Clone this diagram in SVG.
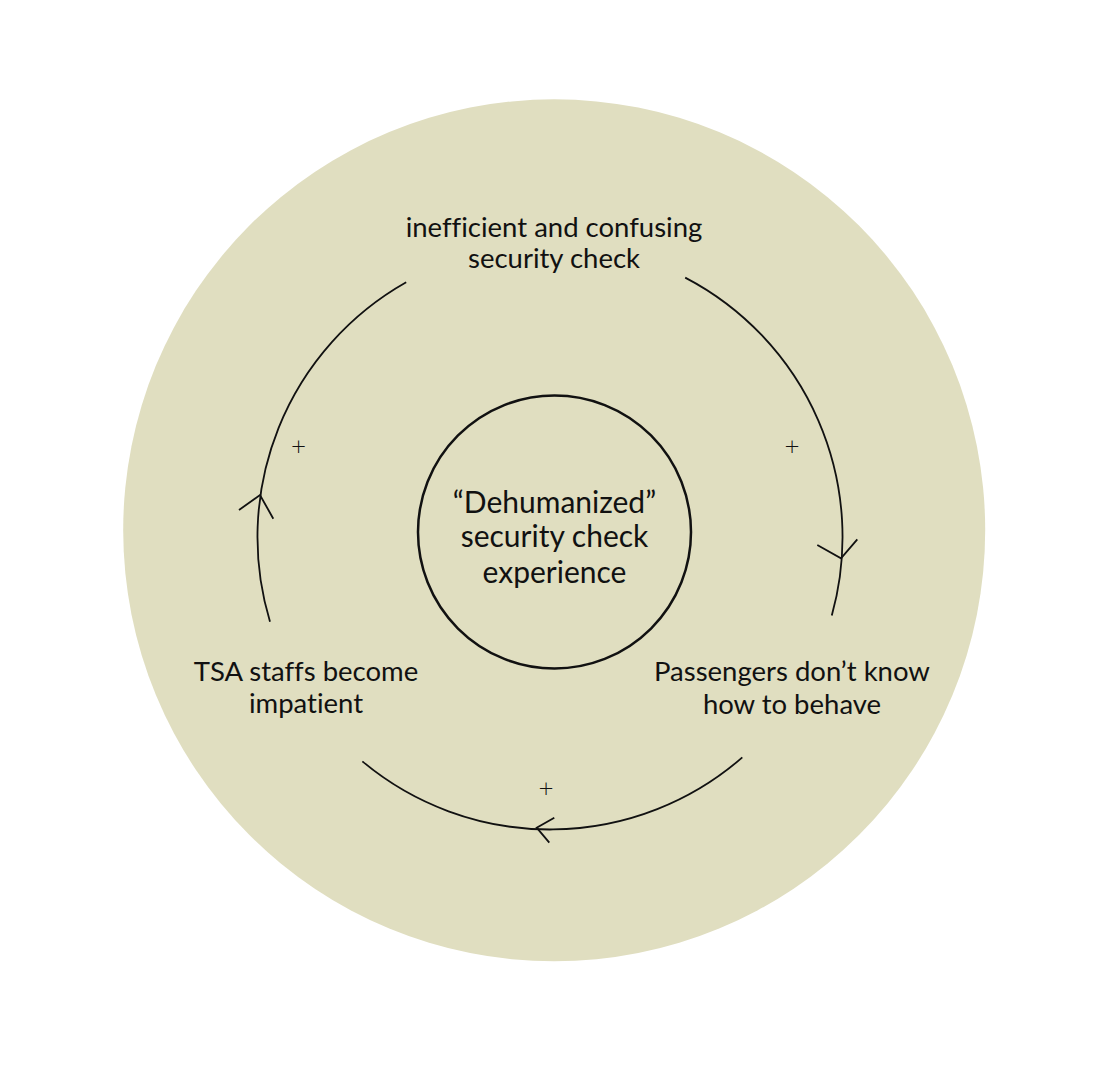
<svg xmlns="http://www.w3.org/2000/svg" width="1104" height="1069" viewBox="0 0 1104 1069">
  <style>
    .lbl { font-family: "Lato", "Liberation Sans", sans-serif; fill: #111; text-anchor: middle; font-variant-ligatures: none; font-feature-settings: "liga" 0, "clig" 0; }
    .node { font-size: 27.5px; }
    .core { font-size: 30px; }
    .sign { font-size: 26px; font-weight: 300; }
    .link { fill: none; stroke: #111; stroke-width: 1.8; stroke-linecap: butt; }
  </style>
  <rect width="1104" height="1069" fill="#ffffff"/>
  <g id="background">
    <circle cx="554.2" cy="530.3" r="431" fill="#E0DEC0"/>
  </g>
  <g id="node-core">
    <circle cx="554.5" cy="532" r="136.5" fill="none" stroke="#111" stroke-width="2.5"/>
    <text class="lbl core" x="554.5" y="512.7">“Dehumanized”</text>
    <text class="lbl core" x="554.5" y="547">security check</text>
    <text class="lbl core" x="554.5" y="582.7">experience</text>
  </g>
  <g id="node-top">
    <text class="lbl node" x="554" y="236.7">inefficient and confusing</text>
    <text class="lbl node" x="554" y="268">security check</text>
  </g>
  <g id="node-right">
    <text class="lbl node" x="792" y="680.7">Passengers don’t know</text>
    <text class="lbl node" x="792" y="714">how to behave</text>
  </g>
  <g id="node-left">
    <text class="lbl node" x="306" y="680.7">TSA staffs become</text>
    <text class="lbl node" x="306" y="713.3">impatient</text>
  </g>
  <g id="connectors">
    <path class="link" d="M685.2,277.6 A292.5,292.5 0 0 1 831.8,615.5"/>
    <polyline class="link" points="817.3,545 841,558.3 857.3,539.3"/>
    <path class="link" d="M742.3,757.4 A292.5,292.5 0 0 1 362.4,761.4"/>
    <polyline class="link" points="554.3,817.7 536.7,827.7 549.3,842.7"/>
    <path class="link" d="M270,621.7 A292.5,292.5 0 0 1 406.2,282.3"/>
    <polyline class="link" points="239,510 260,495 273.3,518.7"/>
    <text class="lbl sign" x="298.5" y="455">+</text>
    <text class="lbl sign" x="792" y="455">+</text>
    <text class="lbl sign" x="546" y="797.3">+</text>
  </g>
</svg>
